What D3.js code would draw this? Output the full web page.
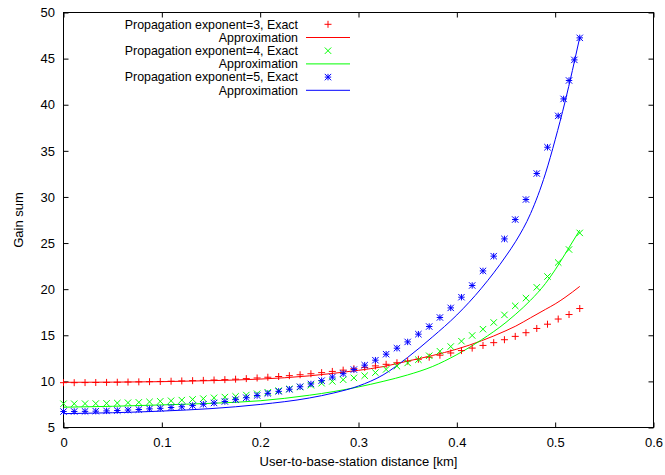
<!DOCTYPE html>
<html>
<head>
<meta charset="utf-8">
<script src="https://cdn.jsdelivr.net/npm/d3@7"></script>
<style>
  html, body { margin: 0; padding: 0; background: #fff; }
  svg { display: block; font-family: "Liberation Sans", Arial, Helvetica, sans-serif; }
</style>
</head>
<body>
<svg id="chart" width="665" height="475"></svg>
<script>
// ---------- data ----------
const xTicks = [0, 0.1, 0.2, 0.3, 0.4, 0.5, 0.6];
const yTicks = [5, 10, 15, 20, 25, 30, 35, 40, 45, 50];

// distances of the "Exact" samples [km]
const distances = [0, 0.0109, 0.0219, 0.0328, 0.0438, 0.0547, 0.0656, 0.0766, 0.0875, 0.0984,
  0.1094, 0.1203, 0.1313, 0.1422, 0.1531, 0.1641, 0.1750, 0.1859, 0.1969, 0.2078,
  0.2188, 0.2297, 0.2406, 0.2516, 0.2625, 0.2734, 0.2844, 0.2953, 0.3063, 0.3172,
  0.3281, 0.3391, 0.3500, 0.3609, 0.3719, 0.3828, 0.3938, 0.4047, 0.4156, 0.4266,
  0.4375, 0.4484, 0.4594, 0.4703, 0.4813, 0.4922, 0.5031, 0.5141, 0.5250];

const exact3 = [9.86, 9.86, 9.87, 9.88, 9.89, 9.91, 9.93, 9.95, 9.97, 9.99,
  10.02, 10.05, 10.08, 10.11, 10.15, 10.19, 10.24, 10.30, 10.37, 10.45,
  10.53, 10.62, 10.72, 10.83, 10.95, 11.08, 11.22, 11.37, 11.52, 11.68,
  11.85, 12.02, 12.20, 12.40, 12.62, 12.84, 13.08, 13.34, 13.61, 13.90,
  14.20, 14.52, 14.88, 15.28, 15.74, 16.20, 16.76, 17.25, 17.90];

const exact4 = [7.58, 7.58, 7.59, 7.60, 7.62, 7.65, 7.69, 7.73, 7.78, 7.84,
  7.90, 7.97, 8.05, 8.13, 8.22, 8.30, 8.38, 8.52, 8.66, 8.82,
  9.00, 9.18, 9.38, 9.58, 9.80, 10.00, 10.18, 10.38, 10.62, 10.95,
  11.30, 11.65, 12.00, 12.35, 12.78, 13.27, 13.78, 14.36, 14.98, 15.66,
  16.39, 17.21, 18.19, 19.03, 20.20, 21.37, 22.89, 24.30, 26.10];

// exponent 5 has two extra samples near the cell edge
const distances5 = [0, 0.0109, 0.0219, 0.0328, 0.0438, 0.0547, 0.0656, 0.0766, 0.0875, 0.0984,
  0.1094, 0.1203, 0.1313, 0.1422, 0.1531, 0.1641, 0.1750, 0.1859, 0.1969, 0.2078,
  0.2188, 0.2297, 0.2406, 0.2516, 0.2625, 0.2734, 0.2844, 0.2953, 0.3063, 0.3172,
  0.3281, 0.3391, 0.3500, 0.3609, 0.3719, 0.3828, 0.3938, 0.4047, 0.4156, 0.4266,
  0.4375, 0.4484, 0.4594, 0.4703, 0.4813, 0.4922, 0.5031, 0.5086, 0.5141, 0.5195, 0.5250];

const exact5 = [6.73, 6.74, 6.75, 6.77, 6.80, 6.84, 6.89, 6.95, 7.02, 7.08,
  7.17, 7.25, 7.38, 7.52, 7.66, 7.82, 8.02, 8.23, 8.47, 8.70,
  8.92, 9.15, 9.42, 9.72, 10.08, 10.47, 10.84, 11.28, 11.76, 12.30,
  12.95, 13.60, 14.28, 15.12, 15.95, 16.93, 17.97, 19.13, 20.40, 21.98,
  23.58, 25.45, 27.55, 29.72, 32.54, 35.39, 38.79, 40.63, 42.63, 44.86, 47.25];

// approximation curves
const approxX = [0, 0.05, 0.1, 0.15, 0.2, 0.25, 0.275, 0.3, 0.325, 0.35, 0.375, 0.4,
  0.425, 0.45, 0.46, 0.475, 0.49, 0.5, 0.51, 0.525];
const approx3 = [9.9, 9.92, 9.97, 10.08, 10.25, 10.6, 10.88, 11.2, 11.6, 12.2, 12.8, 13.5,
  14.4, 15.5, 16.0, 16.9, 17.8, 18.4, 19.1, 20.3];
const approx4 = [7.2, 7.3, 7.45, 7.62, 7.9, 8.5, 8.9, 9.4, 10.0, 10.7, 11.6, 12.9,
  14.5, 16.4, 17.3, 18.8, 20.6, 22.1, 23.8, 26.4];
const approx5 = [6.5, 6.6, 6.78, 7.05, 7.5, 8.2, 8.75, 9.5, 10.7, 12.6, 14.8, 17.2,
  20.1, 23.6, 25.2, 28.2, 32.5, 36.2, 40.3, 47.3];

const seriesLabels = ["Propagation exponent=3, Exact", "Approximation",
  "Propagation exponent=4, Exact", "Approximation",
  "Propagation exponent=5, Exact", "Approximation"];
const colors = ["#ff0000", "#00ff00", "#0000ff"];

// ---------- layout ----------
const svg = d3.select("#chart");
const L = 63.5, R = 653.5, T = 12.5, B = 427.5;
const x = d3.scaleLinear().domain([0, 0.6]).range([L, R]);
const y = d3.scaleLinear().domain([5, 50]).range([B, T]);
const fontSize = 13;
const legendFontSize = 12.4;

// ---------- axes ----------
const gx = svg.append("g").attr("transform", `translate(0,${B})`)
  .call(d3.axisBottom(x).tickValues(xTicks).tickFormat(d3.format("~g"))
    .tickSizeInner(-5).tickSizeOuter(0).tickPadding(10));
const gxt = svg.append("g").attr("transform", `translate(0,${T})`)
  .call(d3.axisTop(x).tickValues(xTicks).tickFormat("")
    .tickSizeInner(-5).tickSizeOuter(0));
const gy = svg.append("g").attr("transform", `translate(${L},0)`)
  .call(d3.axisLeft(y).tickValues(yTicks).tickFormat(d3.format("d"))
    .tickSizeInner(-5).tickSizeOuter(0).tickPadding(8.5));
const gyr = svg.append("g").attr("transform", `translate(${R},0)`)
  .call(d3.axisRight(y).tickValues(yTicks).tickFormat("")
    .tickSizeInner(-5).tickSizeOuter(0));

[gx, gxt, gy, gyr].forEach(g => {
  g.select(".domain").remove();
  g.selectAll(".tick line").attr("stroke", "#000").attr("stroke-width", 1);
  g.selectAll(".tick text").attr("fill", "#000")
    .style("font-size", fontSize + "px")
    .style("font-family", '"Liberation Sans", Arial, sans-serif');
});

// frame
svg.append("rect").attr("x", L).attr("y", T).attr("width", R - L).attr("height", B - T)
  .attr("fill", "none").attr("stroke", "#000").attr("stroke-width", 1);

// axis titles
svg.append("text").attr("x", (L + R) / 2).attr("y", 461).attr("dy", "0.35em")
  .attr("text-anchor", "middle").style("font-size", fontSize + "px")
  .text("User-to-base-station distance [km]");
svg.append("text").attr("transform", `translate(18.5,${(T + B) / 2}) rotate(-90)`)
  .attr("dy", "0.35em").attr("text-anchor", "middle").style("font-size", fontSize + "px")
  .text("Gain sum");

// ---------- marks ----------
const plot = svg.append("g");
const markerPath = {
  plus: (cx, cy, s) => `M${cx - s},${cy}H${cx + s}M${cx},${cy - s}V${cy + s}`,
  cross: (cx, cy, s) => `M${cx - s},${cy - s}L${cx + s},${cy + s}M${cx - s},${cy + s}L${cx + s},${cy - s}`,
  star: (cx, cy, s) => `M${cx - s},${cy}H${cx + s}M${cx},${cy - s}V${cy + s}` +
    `M${cx - s},${cy - s}L${cx + s},${cy + s}M${cx - s},${cy + s}L${cx + s},${cy - s}`
};

const lineGen = d3.line().x(d => x(d[0])).y(d => y(d[1])).curve(d3.curveMonotoneX);

const approxSets = [approx3, approx4, approx5];
approxSets.forEach((vals, i) => {
  plot.append("path").datum(approxX.map((d, j) => [d, vals[j]]))
    .attr("d", lineGen).attr("fill", "none")
    .attr("stroke", colors[i]).attr("stroke-width", 1);
});

const exactSets = [
  { xs: distances, ys: exact3, m: "plus", s: 3.5 },
  { xs: distances, ys: exact4, m: "cross", s: 3.2 },
  { xs: distances5, ys: exact5, m: "star", s: 3.2 }
];
exactSets.forEach((ser, i) => {
  plot.append("g").selectAll("path")
    .data(ser.xs.map((d, j) => [d, ser.ys[j]]))
    .join("path")
    .attr("d", d => markerPath[ser.m](x(d[0]), y(d[1]), ser.s))
    .attr("fill", "none").attr("stroke", colors[i]).attr("stroke-width", 1);
});

// ---------- legend ----------
const leg = svg.append("g");
const legTextX = 298, legY0 = 24.3, legDy = 13.2;
const sampleX0 = 306, sampleX1 = 350;
seriesLabels.forEach((lab, r) => {
  const cy = legY0 + r * legDy;
  const si = Math.floor(r / 2);
  leg.append("text").attr("x", legTextX).attr("y", cy).attr("dy", "0.35em")
    .attr("text-anchor", "end").style("font-size", legendFontSize + "px").text(lab);
  if (r % 2 === 0) {
    leg.append("path")
      .attr("d", markerPath[exactSets[si].m]((sampleX0 + sampleX1) / 2, cy, exactSets[si].s))
      .attr("fill", "none").attr("stroke", colors[si]).attr("stroke-width", 1);
  } else {
    leg.append("line").attr("x1", sampleX0).attr("x2", sampleX1)
      .attr("y1", cy).attr("y2", cy)
      .attr("stroke", colors[si]).attr("stroke-width", 1);
  }
});
</script>
</body>
</html>
